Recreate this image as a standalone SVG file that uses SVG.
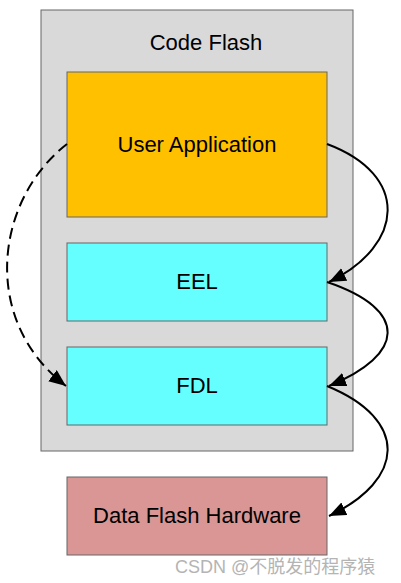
<svg xmlns="http://www.w3.org/2000/svg" width="401" height="583" viewBox="0 0 401 583">
<style>
.box{stroke:#666;stroke-width:1}
.lbl{font-family:"Liberation Sans",Arial,sans-serif;font-size:22px;fill:#000;text-anchor:middle}
.con{fill:none;stroke:#000;stroke-width:2}
.dash{stroke-dasharray:11 6}
.wm{font-family:"Liberation Sans","Noto Sans CJK SC",sans-serif;font-size:18px;fill:#b4b4b4}
</style>
<defs>
<marker id="ah" markerUnits="userSpaceOnUse" markerWidth="20" markerHeight="16" refX="17" refY="7" orient="auto">
<path d="M0,0 L17,7 L0,14 Z" fill="#000"/>
</marker>
</defs>
<rect width="401" height="583" fill="#fff"/>
<g id="codeflash">
<rect class="box" x="41" y="10" width="312" height="441" fill="#d9d9d9"/>
<text class="lbl" x="206" y="50">Code Flash</text>
</g>
<g id="userapp">
<rect class="box" x="67" y="72" width="260" height="145" fill="#ffc000"/>
<text class="lbl" x="197" y="152">User Application</text>
</g>
<g id="eel">
<rect class="box" x="67" y="243" width="260" height="78" fill="#66ffff"/>
<text class="lbl" x="197" y="289">EEL</text>
</g>
<g id="fdl">
<rect class="box" x="67" y="347" width="260" height="78" fill="#66ffff"/>
<text class="lbl" x="197" y="393">FDL</text>
</g>
<g id="dataflash">
<rect class="box" x="67" y="477" width="260" height="78" fill="#d99694"/>
<text class="lbl" x="197" y="523">Data Flash Hardware</text>
</g>
<g id="connectors">
<path class="con" d="M327,144 C410,175 405,245 329,282" marker-end="url(#ah)"/>
<path class="con" d="M327,282 C410,310 405,355 329,386" marker-end="url(#ah)"/>
<path class="con" d="M327,386 C410,420 405,480 329,516" marker-end="url(#ah)"/>
<path class="con dash" d="M67,144 C-5,200 -20,320 66,386" marker-end="url(#ah)"/>
</g>
<text class="wm" x="175" y="573">CSDN @不脱发的程序猿</text>
</svg>
